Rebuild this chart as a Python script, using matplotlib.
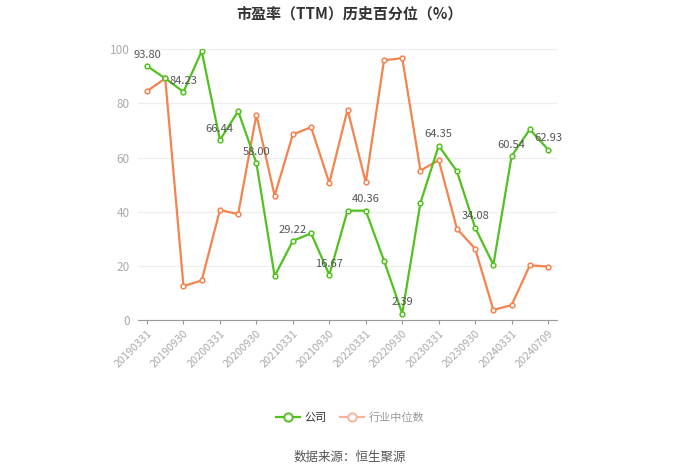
import numpy as np
import matplotlib.pyplot as plt

plt.rcParams['font.family'] = ['Noto Sans CJK SC', 'DejaVu Sans']

# report dates
dates = ['20190331', '20190630', '20190930', '20191231',
         '20200331', '20200630', '20200930', '20201231',
         '20210331', '20210630', '20210930', '20211231',
         '20220331', '20220630', '20220930', '20221231',
         '20230331', '20230630', '20230930', '20231231',
         '20240331', '20240630', '20240709']

# company PE percentile
company = [93.80, 89.2, 84.23, 99.3, 66.44, 77.1, 58.00, 16.2, 29.22, 32.0,
           16.67, 40.36, 40.36, 21.9, 2.39, 43.3, 64.35, 54.9, 34.08, 20.4,
           60.54, 70.4, 62.93]

# industry median
industry = [84.5, 89.2, 12.5, 14.6, 40.6, 39.1, 75.8, 45.9, 68.5, 71.2,
            50.6, 77.7, 50.8, 95.9, 96.7, 55.2, 59.0, 33.7, 26.3, 3.7,
            5.5, 20.2, 19.7]

green = '#52c11f'
orange = '#f5834f'

fig = plt.figure(figsize=(7, 4.73), dpi=100)
ax = fig.add_axes([0.197, 0.3235, 0.599, 0.5725])

x = np.arange(len(dates))
ax.plot(x, company, color=green, lw=1.6, marker='o', ms=3.4,
        mfc='white', mec=green, mew=1.1, zorder=3)
ax.plot(x, industry, color=orange, lw=1.6, marker='o', ms=3.4,
        mfc='white', mec=orange, mew=1.1, zorder=2)

# data labels on every other company point
for i in range(0, len(dates), 2):
    ax.annotate('%.2f' % company[i], (x[i], company[i]), xytext=(0, 4.5),
                textcoords='offset points', ha='center', va='bottom',
                fontsize=8, color='#555555', zorder=4)

ax.set_xlim(-0.5, len(dates) - 0.5)
ax.set_ylim(0, 100)
ax.set_yticks([0, 20, 40, 60, 80, 100])
ax.set_xticks(x[::2])
ax.set_xticklabels(dates[::2], rotation=45, ha='right', rotation_mode='anchor')

ax.grid(axis='y', color='#eeeeee', lw=0.9)
ax.set_axisbelow(True)
for s in ['top', 'right', 'left']:
    ax.spines[s].set_visible(False)
ax.spines['bottom'].set_color('#999999')
ax.tick_params(axis='y', length=0, labelsize=8.5, labelcolor='#aaaaaa', pad=6)
ax.tick_params(axis='x', length=3, color='#999999', labelsize=7.8,
               labelcolor='#aaaaaa', pad=3)

fig.text(0.5, 0.972, '市盈率（TTM）历史百分位（%）', ha='center', va='center',
         fontsize=10.8, fontweight='bold', color='#333333')

# legend
h1, = ax.plot([], [], color=green, lw=1.6, marker='o', ms=6, mfc='white',
              mec=green, mew=1.4)
h2, = ax.plot([], [], color='#f7b49a', lw=1.6, marker='o', ms=6, mfc='white',
              mec='#f7b49a', mew=1.4)
leg = fig.legend([h1, h2], ['公司', '行业中位数'], loc='center',
                 bbox_to_anchor=(0.5, 0.118), ncol=2, frameon=False,
                 fontsize=8, handlelength=2.2, columnspacing=1.2,
                 handletextpad=0.4)
leg.get_texts()[0].set_color('#333333')
leg.get_texts()[1].set_color('#999999')

fig.text(0.5, 0.034, '数据来源：恒生聚源', ha='center', va='center',
         fontsize=9, color='#555555')

fig.savefig('out.png', dpi=100)
